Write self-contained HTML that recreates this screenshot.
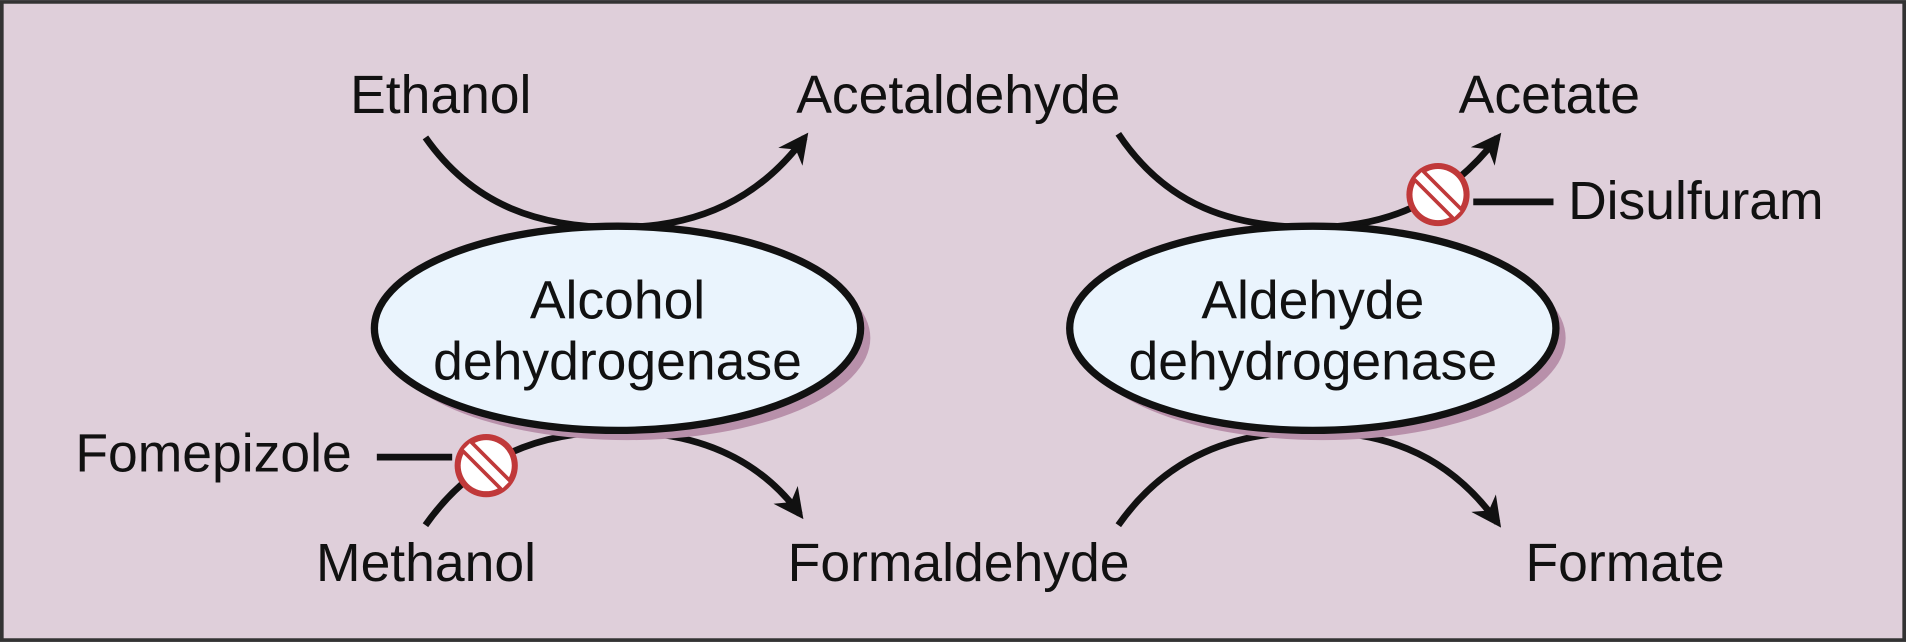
<!DOCTYPE html>
<html><head><style>html,body{margin:0;padding:0;background:#dfcfda}svg{display:block}text{font-family:"Liberation Sans",sans-serif;font-size:44px;fill:#111}</style></head>
<body>
<svg width="1906" height="642" viewBox="0 0 1568 528" xmlns="http://www.w3.org/2000/svg">
<defs><marker id="a" viewBox="0 0 10 10" refX="8" refY="5" markerWidth="4.5" markerHeight="4.5" orient="auto-start-reverse" markerUnits="strokeWidth"><path d="M0 0 L10 5 L0 10 L3 5 Z" fill="#111"/></marker></defs>
<rect x="1.5" y="1.5" width="1565" height="525" fill="#dfcfda" stroke="#333" stroke-width="3"/>
<g fill="none" stroke="#111" stroke-width="5.5">
<path d="M350 113 C390 170,445 187,508 187 C575 187,625 163,662 113" marker-end="url(#a)"/>
<path d="M350 432 C390 375,445 355,508 355 C575 355,625 378,658 423" marker-end="url(#a)"/>
<path d="M920 110 C960 170,1015 187,1080 187 C1140 187,1190 167,1232 113" marker-end="url(#a)"/>
<path d="M920 432 C960 375,1015 355,1080 355 C1145 355,1195 378,1232 430" marker-end="url(#a)"/>
<path d="M310 376 H372 M1212 166 H1278"/>
</g>
<ellipse cx="516" cy="278" rx="200" ry="84" fill="#b890aa"/>
<ellipse cx="508" cy="270" rx="200" ry="84" fill="#eaf4fd" stroke="#111" stroke-width="6"/>
<ellipse cx="1088" cy="278" rx="200" ry="84" fill="#b890aa"/>
<ellipse cx="1080" cy="270" rx="200" ry="84" fill="#eaf4fd" stroke="#111" stroke-width="6"/>
<g>
<circle cx="400" cy="383" r="26" fill="#c0393a"/><circle cx="400" cy="383" r="21" fill="#fff"/>
<line x1="385" y1="368" x2="415" y2="398" stroke="#c0393a" stroke-width="13"/><line x1="384" y1="367" x2="416" y2="399" stroke="#fff" stroke-width="7"/>
<circle cx="1183" cy="160" r="26" fill="#c0393a"/><circle cx="1183" cy="160" r="21" fill="#fff"/>
<line x1="1168" y1="145" x2="1198" y2="175" stroke="#c0393a" stroke-width="13"/><line x1="1167" y1="144" x2="1199" y2="176" stroke="#fff" stroke-width="7"/>
</g>
<text x="288" y="93">Ethanol</text>
<text x="655" y="93">Acetaldehyde</text>
<text x="1200" y="93">Acetate</text>
<text x="1290" y="180">Disulfuram</text>
<text x="62" y="388">Fomepizole</text>
<text x="260" y="478">Methanol</text>
<text x="648" y="478">Formaldehyde</text>
<text x="1255" y="478">Formate</text>
<text x="508" y="262" text-anchor="middle">Alcohol</text>
<text x="508" y="312" text-anchor="middle">dehydrogenase</text>
<text x="1080" y="262" text-anchor="middle">Aldehyde</text>
<text x="1080" y="312" text-anchor="middle">dehydrogenase</text>
</svg>
</body></html>
